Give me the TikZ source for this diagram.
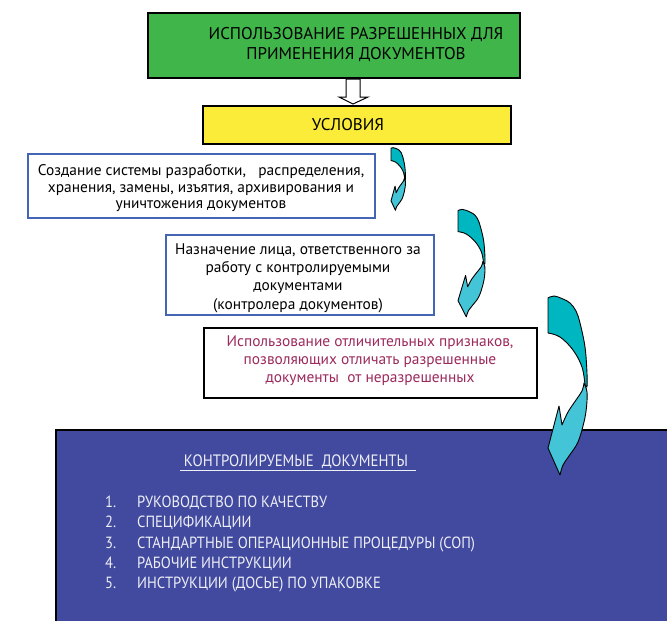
\documentclass[tikz,border=0pt]{standalone}
\usepackage{fontspec}
\setmainfont{PT Sans}
\newfontfamily\condfont[FakeStretch=0.9]{PT Sans}
\usetikzlibrary{calc}
\definecolor{grn}{HTML}{40B54A}
\definecolor{ylw}{HTML}{FAEC38}
\definecolor{bluefill}{HTML}{414A9E}
\definecolor{bordblue}{HTML}{4464B4}
\definecolor{maroontxt}{HTML}{9C2A5C}
\definecolor{tealdark}{HTML}{00B7C1}
\definecolor{teallight}{HTML}{43C5D7}
\definecolor{listwhite}{HTML}{EEEEF6}
\tikzset{
  boxbase/.style={rectangle, inner sep=0pt, line width=1.6pt, anchor=north west},
  txt/.style={align=center, inner sep=0pt},
  backpart/.style={fill=tealdark, draw=black, line width=0.9pt, line join=round},
  frontpart/.style={fill=teallight, draw=black, line width=0.9pt, line join=round},
}
\newcommand{\tealarrow}{%
  \filldraw[backpart] plot[smooth, tension=0.6] coordinates {(0,1) (6,-1) (15,2) (22,6) (28,14) (32,26) (37,50) (39,76) (39,90)}
    -- plot[smooth, tension=0.6] coordinates {(37,88) (34,70) (25,53) (12,40) (0,36)} -- cycle;
  \filldraw[frontpart] plot[smooth, tension=0.6] coordinates {(36,86) (39,95) (38.5,110) (36,125) (30,145) (21,159) (15,168) (12,178)}
    -- (0,151) -- (11,109) -- (14,128)
    -- plot[smooth, tension=0.6] coordinates {(14,128) (20,115) (28,103) (34,94) (36,86)} -- cycle;
}
\begin{document}
\begin{tikzpicture}[x=1pt, y=-1pt]
\useasboundingbox (0,0) rectangle (667,621);
\fill[white] (0,0) rectangle (667,621);

% boxes
\node[boxbase, draw=black, fill=grn, minimum width=372, minimum height=65] (green) at (147,12) {};
\node[boxbase, draw=black, fill=ylw, minimum width=308, minimum height=38] (yellow) at (202,105) {};
\node[boxbase, draw=bordblue, fill=white, minimum width=347, minimum height=64] (b1) at (27,153) {};
\node[boxbase, draw=bordblue, fill=white, minimum width=268, minimum height=80] (b2) at (165,234) {};
\node[boxbase, draw=black, fill=white, minimum width=333, minimum height=70] (b3) at (203,327) {};
\node[boxbase, fill=bluefill, minimum width=611, minimum height=191] (ctrl) at (56,430) {};
\draw[line width=1.6pt] (ctrl.south west) -- (ctrl.north west) -- (ctrl.north east);

% texts
\node[txt, font=\fontsize{17}{20}\selectfont] (gt) at (356,45) {ИСПОЛЬЗОВАНИЕ РАЗРЕШЕННЫХ ДЛЯ\\ПРИМЕНЕНИЯ ДОКУМЕНТОВ};
\node[txt, font=\fontsize{17}{20}\selectfont] (yt) at (348,125) {УСЛОВИЯ};
\node[txt, font=\fontsize{15.4}{16.7}\selectfont] (t1) at (201,188) {Создание системы разработки,\ \ \ распределения,\\хранения, замены, изъятия, архивирования и\\уничтожения документов};
\node[txt, font=\fontsize{15.4}{18.3}\selectfont] (t2) at (298,278) {Назначение лица, ответственного за\\работу с контролируемыми\\документами\\(контролера документов)};
\node[txt, font=\fontsize{15.4}{18}\selectfont, text=maroontxt] (t3) at (370,361) {Использование отличительных признаков,\\позволяющих отличать разрешенные\\документы\ \ от неразрешенных};
\node[txt, font=\condfont\fontsize{16.5}{20}\selectfont, text=listwhite] (title) at (298,463) {\underline{\ КОНТРОЛИРУЕМЫЕ\ \ ДОКУМЕНТЫ\ \ }};
\node[inner sep=0pt, anchor=north west, align=left, text=listwhite, font=\condfont\fontsize{16.2}{20.2}\selectfont] (list) at (105,496)
{\makebox[32pt][l]{1.}РУКОВОДСТВО ПО КАЧЕСТВУ\\
 \makebox[32pt][l]{2.}СПЕЦИФИКАЦИИ\\
 \makebox[32pt][l]{3.}СТАНДАРТНЫЕ ОПЕРАЦИОННЫЕ ПРОЦЕДУРЫ (СОП)\\
 \makebox[32pt][l]{4.}РАБОЧИЕ ИНСТРУКЦИИ\\
 \makebox[32pt][l]{5.}ИНСТРУКЦИИ (ДОСЬЕ) ПО УПАКОВКЕ};

% hollow arrow green -> yellow
\coordinate (hatop) at (353,79);
\coordinate (hatip) at (353,104);
\draw[fill=white, line width=1pt, line join=miter]
  ($(hatop)+(-7,0)$) -- ($(hatop)+(7,0)$) -- ($(hatip)+(7,-7)$) -- ($(hatip)+(15,-7)$) -- (hatip)
  -- ($(hatip)+(-14,-7)$) -- ($(hatip)+(-7,-7)$) -- cycle;

% curved arrows
\begin{scope}[shift={(391,148)}, xscale=0.37, yscale=0.35]
  \tealarrow
\end{scope}
\begin{scope}[shift={(458,210)}, xscale=0.69, yscale=0.60]
  \tealarrow
\end{scope}
\begin{scope}[shift={(548,297)}]
  \tealarrow
\end{scope}
\end{tikzpicture}
\end{document}
